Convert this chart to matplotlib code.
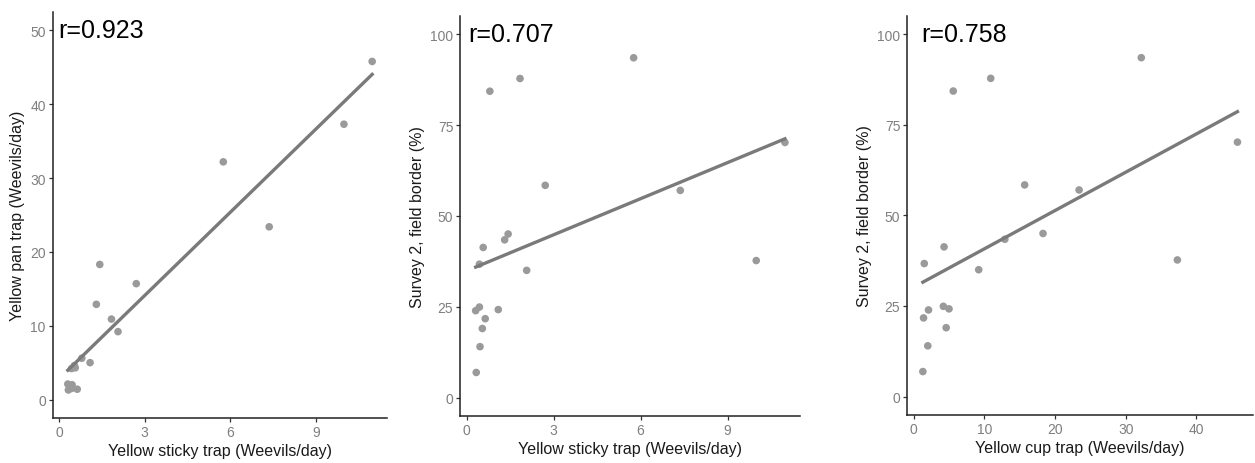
import numpy as np
import matplotlib
matplotlib.use('Agg')
import matplotlib.pyplot as plt

plt.rcParams['font.family'] = ['Liberation Sans', 'DejaVu Sans']

# one entry per site
sticky = [5.76, 1.84, 0.80, 10.98, 2.71, 7.37, 1.43, 1.31, 0.57, 0.44,
          2.07, 9.99, 0.44, 0.31, 1.09, 0.64, 0.54, 0.46, 0.33]
pan = [32.2, 10.9, 5.6, 45.8, 15.7, 23.4, 18.3, 12.9, 4.3, 1.5,
       9.2, 37.3, 4.2, 2.1, 5.0, 1.4, 4.6, 2.0, 1.3]
survey = [93.5, 87.8, 84.3, 70.2, 58.4, 57.0, 45.0, 43.4, 41.3, 36.7,
          35.0, 37.7, 24.9, 23.9, 24.2, 21.7, 19.0, 14.0, 6.9]

r_labels = ['r=0.923', 'r=0.707', 'r=0.758']
x_titles = ['Yellow sticky trap (Weevils/day)', 'Yellow sticky trap (Weevils/day)',
            'Yellow cup trap (Weevils/day)']
y_titles = ['Yellow pan trap (Weevils/day)', 'Survey 2, field border (%)',
            'Survey 2, field border (%)']

panels = [(sticky, pan), (sticky, survey), (pan, survey)]

fig = plt.figure(figsize=(12.55, 4.64), dpi=100)
W, H = 1255.0, 464.0
boxes = [(52.7, 13, 387, 419), (460.3, 17, 800, 416.7), (907.3, 17, 1253, 415.7)]
xlims = [(-0.22, 11.5), (-0.22, 11.5), (-0.9, 48.0)]
ylims = [(-2.5, 52.5), (-5, 105), (-5, 105)]
xticks = [[0, 3, 6, 9], [0, 3, 6, 9], [0, 10, 20, 30, 40]]
yticks = [[0, 10, 20, 30, 40, 50], [0, 25, 50, 75, 100], [0, 25, 50, 75, 100]]
text_x = [0.016, 0.022, 0.04]

for i, (xs, ys) in enumerate(panels):
    l, t, r, b = boxes[i]
    ax = fig.add_axes([l / W, 1 - b / H, (r - l) / W, (b - t) / H])
    xs = np.array(xs)
    ys = np.array(ys)
    ax.scatter(xs, ys, s=30, color='#9a9a9a', edgecolors='none', zorder=2)
    k, c = np.polyfit(xs, ys, 1)
    xl = np.array([xs.min(), xs.max()])
    ax.plot(xl, k * xl + c, color='#7a7a7a', lw=2.4, zorder=3)
    ax.set_xlim(*xlims[i])
    ax.set_ylim(*ylims[i])
    ax.set_xticks(xticks[i])
    ax.set_yticks(yticks[i])
    for s in ['top', 'right']:
        ax.spines[s].set_visible(False)
    for s in ['left', 'bottom']:
        ax.spines[s].set_linewidth(1.1)
        ax.spines[s].set_color('#222222')
    ax.tick_params(length=3, width=0.9, color='#333333', labelcolor='#7f7f7f',
                   labelsize=10, pad=2)
    ax.set_xlabel(x_titles[i], fontsize=11.5, color='#1a1a1a', labelpad=3)
    ax.set_ylabel(y_titles[i], fontsize=11.5, color='#1a1a1a', labelpad=4)
    ax.text(text_x[i], 0.985, r_labels[i], transform=ax.transAxes,
            fontsize=18, va='top', ha='left', color='black')

fig.savefig('out.png', dpi=100)
